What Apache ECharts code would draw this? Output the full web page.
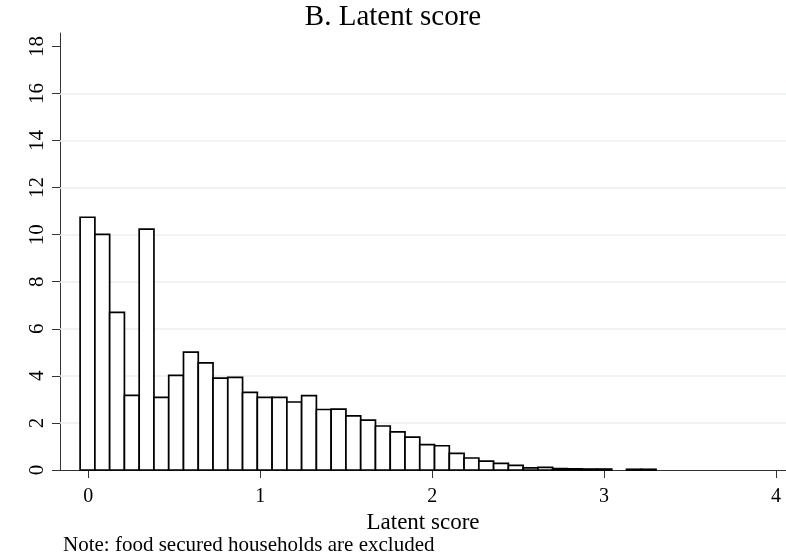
<!DOCTYPE html>
<html>
<head>
<meta charset="utf-8">
<script src="https://cdn.jsdelivr.net/npm/echarts@6/dist/echarts.min.js"></script>
<style>
  html, body { margin: 0; padding: 0; background: #fff; }
  #chart { width: 786px; height: 559px; }
</style>
</head>
<body>
<div id="chart"></div>
<script>
// Histogram bins: left edge of the first bin and the common bin width
const binStart = -0.048;
const binWidth = 0.0859;
// Percent of households in each bin
const percent = [
  10.74, 10.01, 6.70, 3.17, 10.24, 3.09, 4.02, 5.01, 4.55, 3.90,
  3.94, 3.30, 3.09, 3.09, 2.89, 3.16, 2.57, 2.59, 2.30, 2.12,
  1.87, 1.62, 1.40, 1.08, 1.03, 0.71, 0.51, 0.38, 0.28, 0.20,
  0.09, 0.11, 0.06, 0.05, 0.04, 0.04, 0, 0.03, 0.03
];
// Axis ticks
const xTicks = [0, 1, 2, 3, 4];
const yTicks = [0, 2, 4, 6, 8, 10, 12, 14, 16, 18];
const yGrid = [2, 4, 6, 8, 10, 12, 14, 16];

const serif = 'Liberation Serif, Times New Roman, serif';

const histData = percent.map((v, i) => [
  binStart + i * binWidth,
  binStart + (i + 1) * binWidth,
  v
]);

const chart = echarts.init(document.getElementById('chart'), null, { renderer: 'canvas' });

chart.setOption({
  animation: false,
  backgroundColor: '#ffffff',
  title: {
    text: 'B. Latent score',
    left: 'center',
    top: -2,
    textStyle: { fontFamily: serif, fontSize: 29, fontWeight: 'normal', color: '#000' }
  },
  grid: { left: 60, right: 0, top: 33, bottom: 89 },
  xAxis: {
    type: 'value',
    min: -0.165,
    max: 4.058,
    name: 'Latent score',
    nameLocation: 'middle',
    nameGap: 39,
    nameTextStyle: { fontFamily: serif, fontSize: 23, color: '#000' },
    axisLine: { show: true, onZero: false, lineStyle: { color: '#333', width: 1 } },
    axisTick: { show: true, length: 8, customValues: xTicks, lineStyle: { color: '#333', width: 1 } },
    axisLabel: {
      customValues: xTicks,
      margin: 17,
      fontFamily: serif, fontSize: 20, color: '#000'
    },
    splitLine: { show: false }
  },
  yAxis: {
    type: 'value',
    min: 0,
    max: 18.57,
    axisLine: { show: true, onZero: false, lineStyle: { color: '#333', width: 1 } },
    axisTick: { show: true, length: 8, customValues: yTicks, lineStyle: { color: '#333', width: 1 } },
    axisLabel: {
      customValues: yTicks,
      rotate: 90,
      margin: 12,
      fontFamily: serif, fontSize: 21, color: '#000'
    },
    splitLine: { show: false }
  },
  graphic: [{
    type: 'text',
    left: 63,
    top: 535,
    style: {
      text: 'Note: food secured households are excluded',
      fontFamily: serif, fontSize: 21, fill: '#000'
    }
  }],
  series: [
    {
      // light horizontal gridlines behind the bars
      type: 'line',
      data: [],
      z: 1,
      silent: true,
      markLine: {
        z: 1,
        silent: true,
        symbol: 'none',
        label: { show: false },
        lineStyle: { color: '#e8eff2', width: 1.5, type: 'solid' },
        data: yGrid.map(v => ({ yAxis: v }))
      }
    },
    {
      type: 'custom',
      z: 3,
      data: histData,
      encode: { x: [0, 1], y: 2 },
      renderItem: function (params, api) {
        const v = api.value(2);
        if (!v) return null;
        const topLeft = api.coord([api.value(0), v]);
        const bottomRight = api.coord([api.value(1), 0]);
        return {
          type: 'rect',
          shape: {
            x: topLeft[0],
            y: topLeft[1],
            width: bottomRight[0] - topLeft[0],
            height: bottomRight[1] - topLeft[1]
          },
          style: { fill: '#ffffff', stroke: '#000000', lineWidth: 1.7 }
        };
      }
    }
  ]
});
</script>
</body>
</html>
